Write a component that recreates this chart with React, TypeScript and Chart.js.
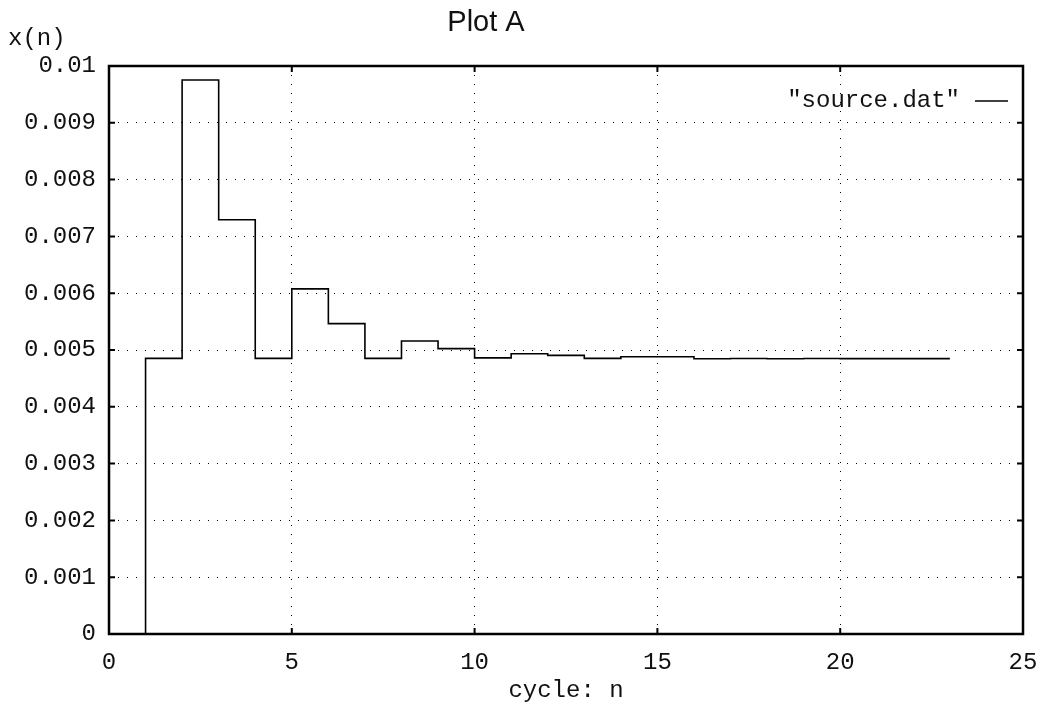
import React, { useEffect, useRef } from "react";
import { Chart, registerables } from "chart.js";

Chart.register(...registerables);

const chartTitle = "Plot A";
const yLabel = "x(n)";
const xLabel = "cycle: n";
const seriesName = '"source.dat"';

const cycles = [1, 1, 2, 3, 4, 5, 6, 7, 8, 9, 10, 11, 12, 13, 14, 15, 16, 17, 18, 19, 20, 21, 22, 23];
const values = [
  0, 0.004853, 0.009753, 0.007294, 0.004853, 0.006076, 0.005465, 0.004853, 0.005159, 0.005024,
  0.004862, 0.004935, 0.004906, 0.004853, 0.004882, 0.004882, 0.004847, 0.00485, 0.004847,
  0.00485, 0.004848, 0.004848, 0.004848, 0.004848,
];

const xMin = 0;
const xMax = 25;
const xStep = 5;
const yMin = 0;
const yMax = 0.01;
const yStep = 0.001;

const MONO = "'Liberation Mono', 'DejaVu Sans Mono', monospace";
const SANS = "'Liberation Sans', Arial, sans-serif";
const INK = "#111";

const framePlugin = {
  id: "gnuplotFrame",
  afterDatasetsDraw(chart: any) {
    const { ctx, chartArea } = chart;
    const { left, right, top, bottom } = chartArea;
    const xs = chart.scales.x;
    const ys = chart.scales.y;
    ctx.save();
    ctx.strokeStyle = "#000";
    ctx.lineWidth = 2.5;
    ctx.setLineDash([]);
    ctx.strokeRect(left, top, right - left, bottom - top);
    ctx.lineWidth = 2;
    const tl = 6;
    xs.ticks.forEach((t: any) => {
      const px = xs.getPixelForValue(t.value);
      ctx.beginPath();
      ctx.moveTo(px, bottom);
      ctx.lineTo(px, bottom - tl);
      ctx.moveTo(px, top);
      ctx.lineTo(px, top + tl);
      ctx.stroke();
    });
    ys.ticks.forEach((t: any) => {
      const py = ys.getPixelForValue(t.value);
      ctx.beginPath();
      ctx.moveTo(left, py);
      ctx.lineTo(left + tl, py);
      ctx.moveTo(right, py);
      ctx.lineTo(right - tl, py);
      ctx.stroke();
    });
    ctx.fillStyle = INK;
    ctx.font = `29px ${SANS}`;
    ctx.textAlign = "center";
    ctx.textBaseline = "middle";
    ctx.fillText(chartTitle, 486, 23);
    ctx.font = `24px ${MONO}`;
    ctx.textAlign = "left";
    ctx.fillText(yLabel, 8, 39);
    const ly = top + 35;
    ctx.textAlign = "right";
    ctx.fillText(seriesName, right - 63, ly);
    ctx.beginPath();
    ctx.lineWidth = 1.5;
    ctx.moveTo(right - 48, ly);
    ctx.lineTo(right - 15, ly);
    ctx.stroke();
    ctx.restore();
  },
};

export default function App() {
  const ref = useRef<HTMLCanvasElement | null>(null);
  useEffect(() => {
    if (!ref.current) return;
    const data = cycles.map((c, i) => ({ x: c, y: values[i] }));
    const chart = new Chart(ref.current, {
      type: "line",
      data: {
        datasets: [
          {
            label: seriesName,
            data,
            stepped: "before",
            borderColor: "#000",
            borderWidth: 1.6,
            pointRadius: 0,
            fill: false,
          },
        ],
      },
      options: {
        animation: false,
        responsive: false,
        maintainAspectRatio: false,
        layout: { padding: { left: 0, top: 66, right: 16, bottom: 0 } },
        plugins: {
          legend: { display: false },
          title: { display: false },
          tooltip: { enabled: false },
        },
        scales: {
          x: {
            type: "linear",
            min: xMin,
            max: xMax,
            ticks: {
              stepSize: xStep,
              color: INK,
              font: { family: MONO, size: 24 },
              padding: 14,
              maxRotation: 0,
            },
            grid: {
              color: "#000",
              lineWidth: 1,
              tickLength: 0,
              drawTicks: false,
            },
            border: { display: false, dash: [1, 8] },
            title: {
              display: true,
              text: xLabel,
              color: INK,
              font: { family: MONO, size: 24 },
              padding: { top: 0, bottom: 3 },
            },
            afterFit: (s: any) => {
              s.height = 74;
              s.paddingLeft = 0;
              s.paddingRight = 0;
            },
          } as any,
          y: {
            type: "linear",
            min: yMin,
            max: yMax,
            ticks: {
              stepSize: yStep,
              color: INK,
              font: { family: MONO, size: 24 },
              padding: 13,
              callback: (v: any) => String(Number(Number(v).toFixed(4))),
            },
            grid: {
              color: "#000",
              lineWidth: 1,
              tickLength: 0,
              drawTicks: false,
            },
            border: { display: false, dash: [1, 8] },
            afterFit: (s: any) => {
              s.width = 109;
              s.paddingTop = 0;
              s.paddingBottom = 0;
            },
          } as any,
        },
      },
      plugins: [framePlugin],
    });
    return () => chart.destroy();
  }, []);
  return (
    <div style={{ position: "absolute", left: 0, top: 0, width: 1039, height: 708, background: "#fff" }}>
      <canvas ref={ref} width={1039} height={708} style={{ width: 1039, height: 708 }} />
    </div>
  );
}
